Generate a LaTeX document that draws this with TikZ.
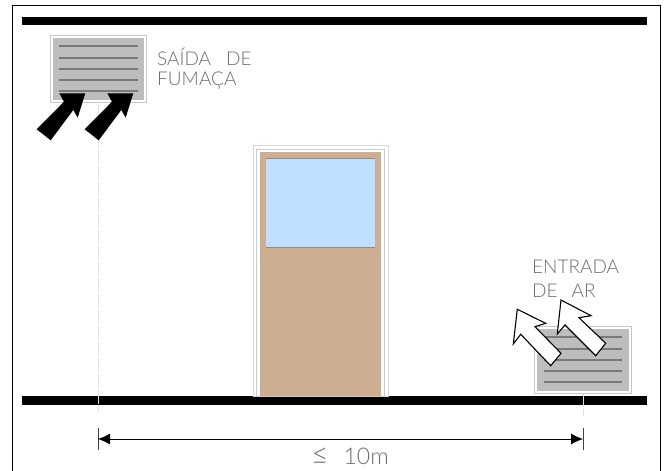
\documentclass[tikz,border=0pt]{standalone}
\usepackage{fontspec}
\setmainfont{Lato Light}
\usetikzlibrary{arrows.meta}
\definecolor{ventfill}{HTML}{BDBDBD}
\definecolor{slat}{HTML}{7A7A7A}
\definecolor{doorwood}{HTML}{CDAE90}
\definecolor{doorglass}{HTML}{BFDFFF}
\definecolor{lbl}{HTML}{6E6E6E}
\tikzset{
  x=1pt,y=-1pt,
  wall/.style={fill=black,draw=none},
  ventouter/.style={draw=black!22,fill=white,line width=0.7pt},
  ventinner/.style={fill=ventfill,draw=none},
  slatline/.style={draw=slat,line width=1.7pt},
  blackarrow/.style={fill=black,draw=none},
  whitearrow/.style={fill=white,draw=black,line width=1.1pt,line join=miter},
  extline/.style={draw=black!12,line width=0.7pt,dash pattern=on 14pt off 2pt},
  label/.style={inner sep=0pt,anchor=base west,text=lbl,font=\fontsize{19}{21}\selectfont},
}
\begin{document}
\begin{tikzpicture}
\useasboundingbox (0,0) rectangle (667,471);
\fill[white] (0,0) rectangle (667,471);
% frame
\draw[black,line width=1pt] (12.5,471) -- (12.5,5.5) -- (660.5,5.5) -- (660.5,471);
% walls
\fill[wall] (22,16.5) rectangle (647,24.5);
\fill[wall] (22,396) rectangle (647,404.5);
% extension lines
\draw[extline] (98,102) -- (98,412);
\draw[extline] (583,393) -- (583,416);
% door
\draw[draw=black!15,fill=white,line width=0.8pt] (253,145.5) rectangle (388,396);
\draw[draw=black!20,line width=0.6pt] (256.5,149) rectangle (384.5,396);
\fill[doorwood] (259.5,152) rectangle (380.5,396);
\fill[black!45] (265.5,158) rectangle (375,248);
\fill[doorglass] (266,158.5) rectangle (375,247);
% exit vent
\draw[ventouter] (50.5,35.5) rectangle (146,102.5);
\fill[ventinner] (53,37.5) rectangle (144,100);
\foreach \yy in {46,58,69,80,91} \draw[slatline] (59,\yy) -- (138,\yy);
% intake vent
\draw[ventouter] (534.5,326) rectangle (631,393);
\fill[ventinner] (537,328.5) rectangle (629,391);
\foreach \yy in {337,349,360,371,382} \draw[slatline] (544,\yy) -- (622,\yy);
% black arrows
\foreach \dx in {0,48}{
  \fill[blackarrow,shift={(\dx,0)}] (36.7,129.3) -- (64,101.7) -- (59.3,93.3) -- (85.3,93.3) -- (77.7,117.7) -- (73.3,110) -- (50.7,140.3) -- cycle;
}
% white arrows
\draw[whitearrow] (517.3,309.3) -- (513.3,344) -- (520.7,334.3) -- (550.7,365.7) -- (561,353.3) -- (535,326.7) -- (545.7,323.3) -- cycle;
\draw[whitearrow] (561,300) -- (557.3,334) -- (565,325) -- (595.7,355.7) -- (605.7,343.3) -- (579,317.7) -- (591,315.7) -- cycle;
% dimension
\coordinate (dl) at (98,439);
\coordinate (dr) at (583,439);
\draw[black!75,line width=0.9pt] (98,428) -- (98,450);
\draw[black!75,line width=0.9pt] (583,428) -- (583,450);
\draw[black,line width=0.8pt,{Latex[length=12pt,width=11pt]}-{Latex[length=12pt,width=11pt]}] (dl) -- (dr);
% labels
\node[label] (saida) at (157,65) {SAÍDA\hspace{15pt}DE};
\node[label] (fumaca) at (157,85) {FUMAÇA};
\node[label] (entrada) at (532,273) {ENTRADA};
\node[label] (dear) at (532,297) {DE\hspace{14pt}AR};
\node[label,font=\fontsize{22}{24}\selectfont] (dim) at (311,464) {{\fontsize{30}{30}\selectfont ≤}\hspace{15pt}{\fontsize{23}{24}\selectfont 10m}};
\end{tikzpicture}
\end{document}
